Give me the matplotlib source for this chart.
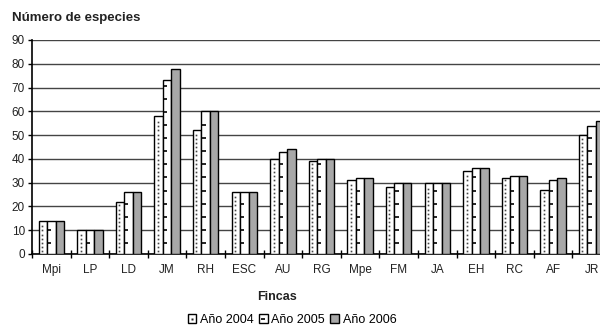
import matplotlib
matplotlib.use("Agg")
import matplotlib.pyplot as plt
import numpy as np
from matplotlib.patches import Patch
from matplotlib.lines import Line2D

plt.rcParams['font.family'] = ['Liberation Sans', 'DejaVu Sans']

# datos: número de especies por finca y año
fincas = ["Mpi", "LP", "LD", "JM", "RH", "ESC", "AU", "RG", "Mpe", "FM", "JA", "EH", "RC", "AF", "JR"]
anio_2004 = [14, 10, 22, 58, 52, 26, 40, 39, 31, 28, 30, 35, 32, 27, 50]
anio_2005 = [14, 10, 26, 73, 60, 26, 43, 40, 32, 30, 30, 36, 33, 31, 54]
anio_2006 = [14, 10, 26, 78, 60, 26, 44, 40, 32, 30, 30, 36, 33, 32, 56]
series = ["Año 2004", "Año 2005", "Año 2006"]

fig = plt.figure(figsize=(6, 3.25), dpi=100)
# el eje se sale un poco por la derecha (la última finca queda cortada)
ax = fig.add_axes([32 / 600, 71 / 325, 579 / 600, 214 / 325])

x = np.arange(len(fincas))
w = 0.22
gris = "#a8a8a8"

b1 = ax.bar(x - w, anio_2004, w, color="white", edgecolor="black", linewidth=1.0, zorder=3)
b2 = ax.bar(x, anio_2005, w, color="white", edgecolor="black", linewidth=1.0, zorder=3)
b3 = ax.bar(x + w, anio_2006, w, color=gris, edgecolor="black", linewidth=1.0, zorder=3)

# trama de puntos (2004) y rayitas (2005)
for xi, h in zip(x, anio_2004):
    yy = np.arange(1.2, h - 0.8, 1.75)
    ax.plot(np.full_like(yy, xi - w * 1.1), yy, ls="none", marker="s",
            ms=1.2, mec="none", mfc="#444444", zorder=4)
for xi, h in zip(x, anio_2005):
    yy = np.arange(4.7, h - 1, 5.5)
    ax.plot(np.full_like(yy, xi - w * 0.25), yy, ls="none", marker="_",
            ms=3, mew=1.2, color="black", zorder=4)

ax.set_ylim(0, 90)
ax.set_xlim(-0.5, len(fincas) - 0.5)
ax.set_yticks(np.arange(0, 91, 10))
ax.yaxis.grid(True, color="#444444", linewidth=1.0, zorder=0)
ax.set_axisbelow(True)

ax.set_xticks(np.arange(-0.5, len(fincas), 1.0))
ax.set_xticklabels([])
ax.set_xticks(x, minor=True)
ax.set_xticklabels(fincas, minor=True)
ax.tick_params(axis="x", which="major", direction="inout", length=6, width=1)
ax.tick_params(axis="x", which="minor", length=0, pad=7, labelsize=8.5)
ax.tick_params(axis="y", direction="out", length=3, width=1, labelsize=8.5, pad=2)
ax.tick_params(colors="black", which="both", labelcolor="#222222")

for s in ["top", "right"]:
    ax.spines[s].set_visible(False)
ax.spines["left"].set_linewidth(1.2)
ax.spines["bottom"].set_linewidth(1.2)

fig.text(12 / 600, 1 - 18 / 325, "Número de especies", fontsize=9.5, fontweight="bold",
         va="center", ha="left", color="#222222")
fig.text(277 / 600, 1 - 297 / 325, "Fincas", fontsize=9, fontweight="bold",
         va="center", ha="center", color="#222222")

# leyenda con los mismos motivos
h2004 = (Patch(facecolor="white", edgecolor="black", linewidth=1.0),
         Line2D([], [], ls="none", marker="s", ms=1.5, mfc="#222222", mec="none"))
h2005 = (Patch(facecolor="white", edgecolor="black", linewidth=1.0),
         Line2D([], [], ls="none", marker="_", ms=3, mew=1.2, color="black"))
h2006 = Patch(facecolor=gris, edgecolor="black", linewidth=1.0)
fig.legend([h2004, h2005, h2006], series, loc="center", bbox_to_anchor=(292 / 600, 1 - 320 / 325),
           ncol=3, frameon=False, fontsize=9, handlelength=0.7, handleheight=0.7,
           handletextpad=0.3, columnspacing=0.4, borderpad=0)

fig.savefig("out.png", dpi=100)
